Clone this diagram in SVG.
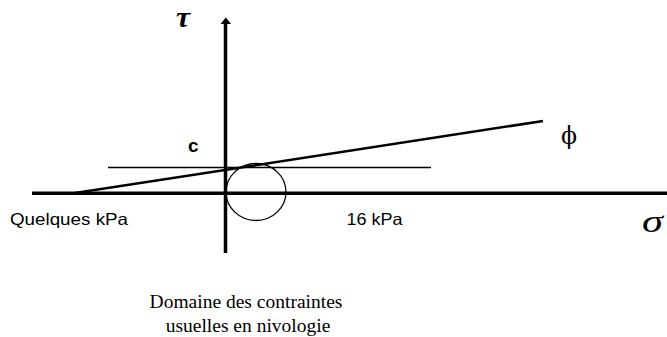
<svg xmlns="http://www.w3.org/2000/svg" width="667" height="337" viewBox="0 0 667 337">
<style>
.ax{stroke:#000;stroke-width:3.5;fill:none}
.thin{stroke:#000;stroke-width:1.3;fill:none}
.sans{font-family:"Liberation Sans",Arial,sans-serif;fill:#000}
.serif{font-family:"Liberation Serif","Times New Roman",serif;fill:#000}
</style>
<rect width="667" height="337" fill="#fff"/>
<g id="axes">
<line class="ax" x1="32" y1="193.3" x2="667" y2="193.3"/>
<line class="ax" x1="225.5" y1="253" x2="225.5" y2="22"/>
<polygon points="225.8,17.5 220.5,24 231,24" fill="#000"/>
</g>
<g id="cohesion-line">
<line class="thin" x1="108" y1="167.5" x2="431" y2="167.5"/>
</g>
<g id="failure-envelope">
<line stroke="#000" stroke-width="2.5" x1="75" y1="193" x2="543" y2="121"/>
</g>
<g id="mohr-circle">
<ellipse class="thin" cx="256" cy="192" rx="30" ry="28.5"/>
</g>
<g id="labels">
<text class="serif" x="176" y="27" font-size="30" font-style="italic" font-weight="bold" textLength="14" lengthAdjust="spacingAndGlyphs">τ</text>
<text class="sans" x="188" y="151.5" font-size="19" font-weight="bold">c</text>
<text x="561" y="144" font-size="24" font-family="DejaVu Serif,serif" textLength="16" lengthAdjust="spacingAndGlyphs">ϕ</text>
<text class="serif" x="642" y="232" font-size="31" font-style="italic" textLength="21" lengthAdjust="spacingAndGlyphs">σ</text>
<text class="sans" x="10" y="225" font-size="16.5" textLength="118" lengthAdjust="spacingAndGlyphs">Quelques kPa</text>
<text class="sans" x="346.5" y="225" font-size="16.5" textLength="56" lengthAdjust="spacingAndGlyphs">16 kPa</text>
<text class="serif" x="246" y="308" font-size="19.5" text-anchor="middle">Domaine des contraintes</text>
<text class="serif" x="248" y="332" font-size="19.5" text-anchor="middle">usuelles en nivologie</text>
</g>
</svg>
